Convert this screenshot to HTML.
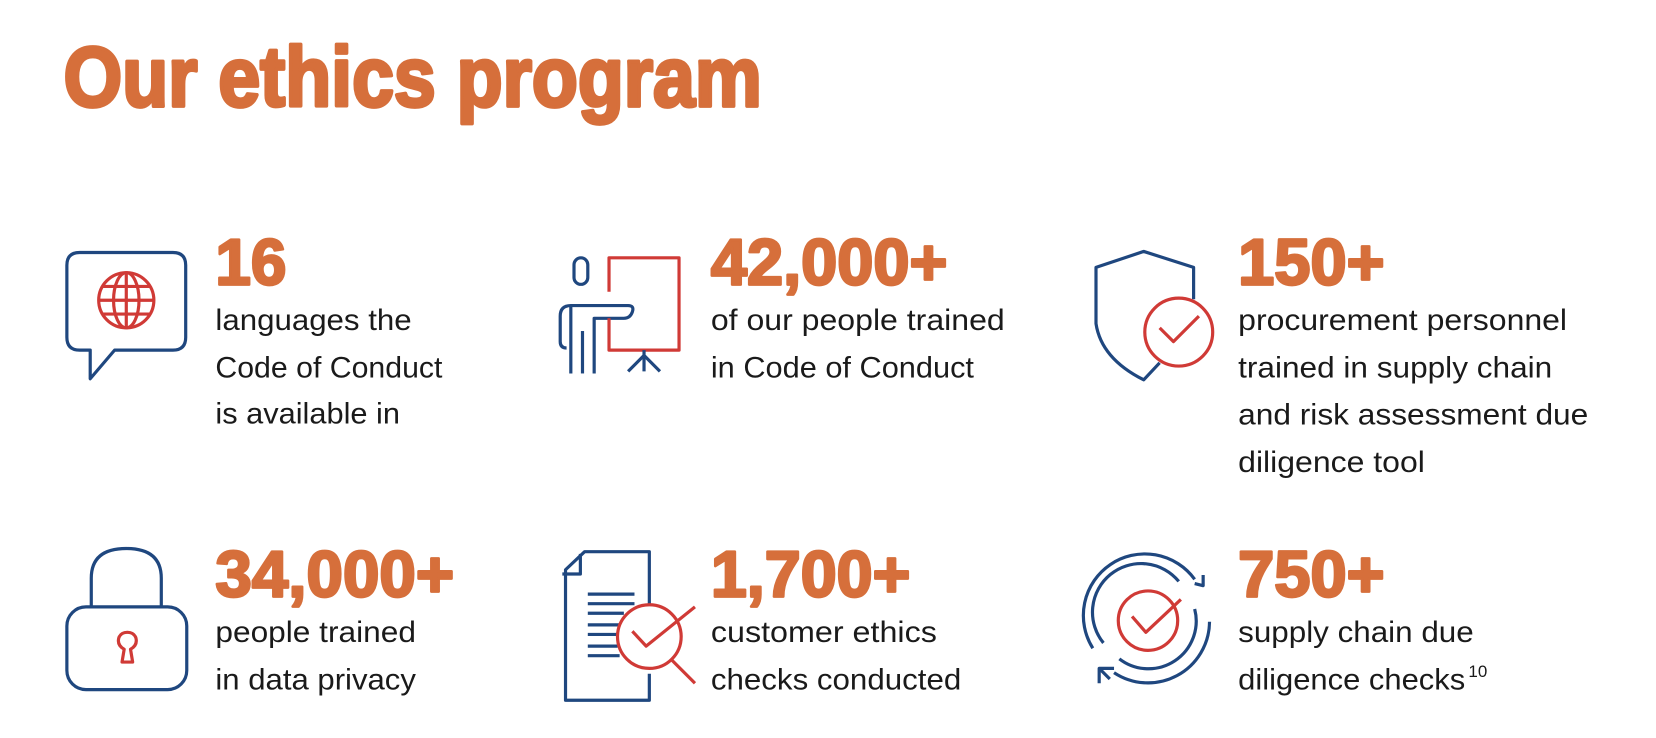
<!DOCTYPE html>
<html><head><meta charset="utf-8"><style>
html,body{margin:0;padding:0;background:#fff;}
svg{display:block;}
.t{font-family:"Liberation Sans",sans-serif;font-weight:bold;fill:#D66F3B;stroke:#D66F3B;stroke-linejoin:round;}
.b{font-family:"Liberation Sans",sans-serif;fill:#1a1a1a;font-size:28px;}
.bl{fill:none;stroke:#1F477F;stroke-width:3;stroke-linecap:butt;stroke-linejoin:round;}
.rd{fill:none;stroke:#D03A36;stroke-width:3;stroke-linejoin:round;}
</style></head><body>
<svg width="1656" height="738" viewBox="0 0 1560.8 695.6" xmlns="http://www.w3.org/2000/svg">
<text class="t" x="60" y="100" font-size="80" stroke-width="3.5" textLength="658" lengthAdjust="spacingAndGlyphs">Our ethics program</text>

<g>
<path class="bl" d="M75 238 H163 Q175 238 175 250 V318 Q175 330 163 330 H108 L85 357 V330 H75 Q63 330 63 318 V250 Q63 238 75 238 Z"/>
<circle class="rd" cx="119" cy="283" r="26"/>
<ellipse class="rd" cx="119" cy="283" rx="12" ry="26"/>
<line class="rd" x1="119" y1="257" x2="119" y2="309"/>
<line class="rd" x1="93" y1="283" x2="145" y2="283"/>
<line class="rd" x1="97" y1="270" x2="141" y2="270"/>
<line class="rd" x1="97" y1="296" x2="141" y2="296"/>
</g>
<text class="t" x="203" y="268" font-size="61" stroke-width="2.5" textLength="67" lengthAdjust="spacingAndGlyphs">16</text>
<text class="b"><tspan x="203" y="311" textLength="185" lengthAdjust="spacingAndGlyphs">languages the</tspan><tspan x="203" y="356" textLength="214" lengthAdjust="spacingAndGlyphs">Code of Conduct</tspan><tspan x="203" y="399" textLength="174" lengthAdjust="spacingAndGlyphs">is available in</tspan></text>

<g>
<rect class="bl" x="541" y="243" width="13" height="25" rx="6.5"/>
<path class="bl" d="M538 352 V288 Q528 288 528 298 V322 Q528 328 534 328"/>
<path class="bl" d="M538 288 H592 Q598 288 596 294 Q594 300 588 300 H560 V352"/>
<line class="bl" x1="549" y1="312" x2="549" y2="352"/>
<path class="rd" d="M574 275 V243 H640 V330 H574 V300"/>
<path class="bl" d="M607 330 V350 M592 350 L607 335 L622 350"/>
</g>
<text class="t" x="670" y="268" font-size="61" stroke-width="2.5" textLength="223" lengthAdjust="spacingAndGlyphs">42,000+</text>
<text class="b"><tspan x="670" y="311" textLength="277" lengthAdjust="spacingAndGlyphs">of our people trained</tspan><tspan x="670" y="356" textLength="248" lengthAdjust="spacingAndGlyphs">in Code of Conduct</tspan></text>

<g>
<path class="bl" d="M1093 342 L1078 358 Q1038 338 1033 305 V252 L1078 237 L1125 252 V282"/>
<circle class="rd" cx="1111" cy="313" r="32"/>
<path class="rd" d="M1093 309 L1106 322 L1130 298"/>
</g>
<text class="t" x="1167" y="268" font-size="61" stroke-width="2.5" textLength="138" lengthAdjust="spacingAndGlyphs">150+</text>
<text class="b"><tspan x="1167" y="311" textLength="310" lengthAdjust="spacingAndGlyphs">procurement personnel</tspan><tspan x="1167" y="356" textLength="296" lengthAdjust="spacingAndGlyphs">trained in supply chain</tspan><tspan x="1167" y="400" textLength="330" lengthAdjust="spacingAndGlyphs">and risk assessment due</tspan><tspan x="1167" y="445" textLength="176" lengthAdjust="spacingAndGlyphs">diligence tool</tspan></text>

<g>
<path class="bl" d="M86 572 V545 Q86 517 119 517 Q152 517 152 545 V572"/>
<rect class="bl" x="63" y="572" width="113" height="78" rx="18"/>
<path class="rd" d="M115 624 L117 612 Q110 608 112 601 Q114 596 120 596 Q126 596 128 601 Q130 608 123 612 L125 624 Z"/>
</g>
<text class="t" x="203" y="562" font-size="61" stroke-width="2.5" textLength="225" lengthAdjust="spacingAndGlyphs">34,000+</text>
<text class="b"><tspan x="203" y="605" textLength="189" lengthAdjust="spacingAndGlyphs">people trained</tspan><tspan x="203" y="650" textLength="189" lengthAdjust="spacingAndGlyphs">in data privacy</tspan></text>

<g>
<path class="bl" d="M612 590 V520 H551 L533 537 V660 H612 V635"/>
<path class="bl" d="M547 522 V541 H530"/>
<g stroke="#1F477F" stroke-width="3">
<line x1="554" y1="560" x2="598" y2="560"/><line x1="554" y1="569" x2="598" y2="569"/><line x1="554" y1="578" x2="588" y2="578"/>
<line x1="554" y1="589" x2="584" y2="589"/><line x1="554" y1="598" x2="582" y2="598"/><line x1="554" y1="609" x2="582" y2="609"/><line x1="554" y1="618" x2="584" y2="618"/>
</g>
<circle class="rd" cx="612" cy="600" r="30" style="fill:#fff"/>
<line class="rd" x1="633" y1="622" x2="655" y2="644"/>
<path class="rd" d="M596 595 L609 609 L655 572"/>
</g>
<text class="t" x="670" y="562" font-size="61" stroke-width="2.5" textLength="188" lengthAdjust="spacingAndGlyphs">1,700+</text>
<text class="b"><tspan x="670" y="605" textLength="213" lengthAdjust="spacingAndGlyphs">customer ethics</tspan><tspan x="670" y="650" textLength="236" lengthAdjust="spacingAndGlyphs">checks conducted</tspan></text>

<g>
<path class="bl" d="M1030 611 A58 58 0 0 1 1126 546"/>
<path class="bl" d="M1126 550 L1134 552 L1134 542"/>
<path class="bl" d="M1140 586 A58 58 0 0 1 1050 634"/>
<path class="bl" d="M1046 640 L1036 630 L1036 644 M1036 630 L1050 630"/>
<path class="bl" d="M1040 606 A45 45 0 0 1 1111 548"/>
<path class="bl" d="M1126 574 A45 45 0 0 1 1055 621"/>
<circle class="rd" cx="1082" cy="585" r="28"/>
<path class="rd" d="M1067 581 L1080 596 L1113 565"/>
</g>
<text class="t" x="1167" y="562" font-size="61" stroke-width="2.5" textLength="138" lengthAdjust="spacingAndGlyphs">750+</text>
<text class="b"><tspan x="1167" y="605" textLength="222" lengthAdjust="spacingAndGlyphs">supply chain due</tspan><tspan x="1167" y="650" textLength="214" lengthAdjust="spacingAndGlyphs">diligence checks</tspan><tspan x="1384" y="638" font-size="16">10</tspan></text>
</svg>
</body></html>
